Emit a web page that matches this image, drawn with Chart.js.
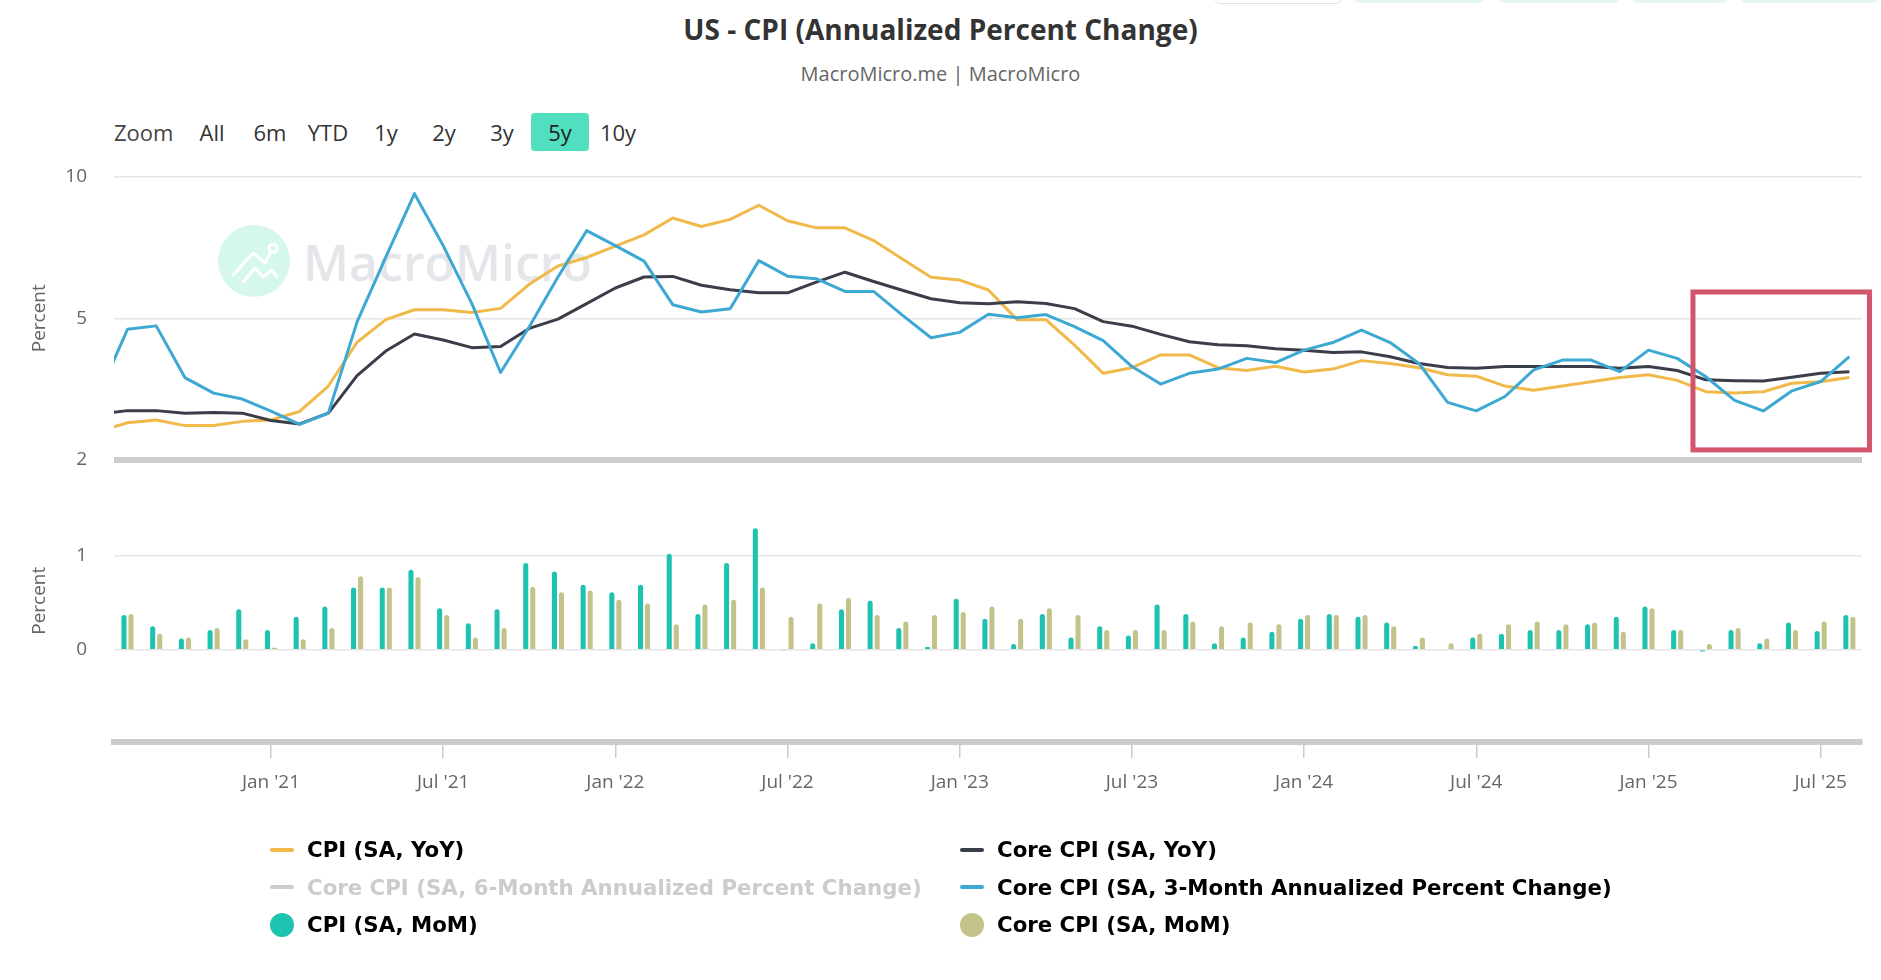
<!DOCTYPE html>
<html>
<head>
<meta charset="utf-8">
<title>US - CPI (Annualized Percent Change)</title>
<script src="https://cdn.jsdelivr.net/npm/chart.js@4.4.1/dist/chart.umd.min.js"></script>
<style>
  html, body { margin: 0; padding: 0; background: #fff; }
  body { width: 1881px; height: 980px; position: relative; overflow: hidden; font-family: "Open Sans", sans-serif; }
  #cpiChart { position: absolute; left: 0; top: 0; }
  .title { position: absolute; left: 0; width: 1881px; top: 10px; text-align: center; font-size: 28px; font-weight: 700; color: #333; line-height: 38px; }
  .subtitle { position: absolute; left: 0; width: 1881px; top: 60px; text-align: center; font-size: 20px; color: #666; line-height: 28px; }
  .range { position: absolute; left: 114px; top: 113px; height: 38px; display: flex; align-items: center; font-size: 22px; color: #444; }
  .range .zoom { width: 69px; }
  .range .btn { width: 58px; height: 38px; line-height: 38px; text-align: center; border-radius: 4px; color: #333; }
  .range .btn.on { background: #52dfc0; color: #222; }
  .tab { position: absolute; top: -10px; height: 13px; border-radius: 0 0 5px 5px; background: #e4f7f1; }
  .tab.plain { background: #fff; border: 1px solid #e2e2e2; border-top: none; }
  #legend { position: absolute; left: 270px; top: 831px; display: grid; grid-template-columns: 690px auto; grid-auto-rows: 37.5px;
            font-family: "DejaVu Sans", sans-serif; font-size: 21.3px; font-weight: 700; color: #000; }
  #legend .item { display: flex; align-items: center; white-space: nowrap; }
  #legend .sym { width: 24px; margin-right: 13px; flex: none; }
  #legend .line { height: 4px; border-radius: 2px; }
  #legend .dot { height: 24px; border-radius: 50%; }
  #legend .off { color: #cccccc; }
</style>
</head>
<body>
<div class="tab plain" style="left:1215px;width:124px"></div>
<div class="tab" style="left:1354px;width:130px"></div>
<div class="tab" style="left:1499px;width:120px"></div>
<div class="tab" style="left:1632px;width:96px"></div>
<div class="tab" style="left:1741px;width:137px"></div>

<div class="title">US - CPI (Annualized Percent Change)</div>
<div class="subtitle">MacroMicro.me | MacroMicro</div>
<div class="range">
  <span class="zoom">Zoom</span>
  <span class="btn">All</span><span class="btn">6m</span><span class="btn">YTD</span><span class="btn">1y</span>
  <span class="btn">2y</span><span class="btn">3y</span><span class="btn on">5y</span><span class="btn">10y</span>
</div>
<canvas id="cpiChart" width="1881" height="980"></canvas>
<div id="legend"></div>

<script>
// --- Data (monthly) ---
const months = [
  '2020-07','2020-08','2020-09','2020-10','2020-11','2020-12',
  '2021-01','2021-02','2021-03','2021-04','2021-05','2021-06','2021-07','2021-08','2021-09','2021-10','2021-11','2021-12',
  '2022-01','2022-02','2022-03','2022-04','2022-05','2022-06','2022-07','2022-08','2022-09','2022-10','2022-11','2022-12',
  '2023-01','2023-02','2023-03','2023-04','2023-05','2023-06','2023-07','2023-08','2023-09','2023-10','2023-11','2023-12',
  '2024-01','2024-02','2024-03','2024-04','2024-05','2024-06','2024-07','2024-08','2024-09','2024-10','2024-11','2024-12',
  '2025-01','2025-02','2025-03','2025-04','2025-05','2025-06','2025-07','2025-08'
];

const cpiYoY = [
  1.0, 1.3, 1.4, 1.2, 1.2, 1.35,
  1.4, 1.7, 2.6, 4.15, 4.95, 5.3, 5.3, 5.2, 5.35, 6.2, 6.85, 7.15,
  7.55, 7.95, 8.55, 8.25, 8.5, 9.0, 8.45, 8.2, 8.2, 7.75, 7.1, 6.45,
  6.35, 6.0, 4.95, 4.95, 4.05, 3.05, 3.25, 3.7, 3.7, 3.25, 3.15, 3.3,
  3.1, 3.2, 3.5, 3.4, 3.25, 3.0, 2.95, 2.6, 2.45, 2.6, 2.75, 2.9,
  3.0, 2.8, 2.4, 2.35, 2.4, 2.7, 2.75, 2.9
];

const coreYoY = [
  1.6, 1.73, 1.73, 1.64, 1.66, 1.64,
  1.38, 1.26, 1.64, 2.97, 3.84, 4.44, 4.23, 3.96, 4.0, 4.64, 4.97, 5.52,
  6.07, 6.46, 6.48, 6.17, 6.01, 5.9, 5.9, 6.28, 6.63, 6.3, 5.99, 5.69,
  5.55, 5.51, 5.58, 5.52, 5.34, 4.88, 4.72, 4.43, 4.17, 4.06, 4.03, 3.92,
  3.87, 3.79, 3.81, 3.64, 3.4, 3.26, 3.23, 3.29, 3.29, 3.29, 3.29, 3.23,
  3.29, 3.15, 2.82, 2.79, 2.78, 2.91, 3.05, 3.11
];

const core3mAnn = [
  2.3, 4.61, 4.73, 2.9, 2.35, 2.14,
  1.71, 1.24, 1.64, 4.87, 7.16, 9.41, 7.57, 5.52, 3.08, 4.7, 6.46, 8.1,
  7.57, 7.02, 5.48, 5.22, 5.34, 7.04, 6.49, 6.4, 5.95, 5.95, 5.11, 4.31,
  4.5, 5.14, 5.02, 5.13, 4.7, 4.21, 3.29, 2.67, 3.05, 3.2, 3.58, 3.43,
  3.87, 4.14, 4.58, 4.14, 3.4, 2.02, 1.72, 2.23, 3.17, 3.52, 3.52, 3.11,
  3.87, 3.58, 2.93, 2.09, 1.72, 2.43, 2.76, 3.64
];

// MoM bars start one month later (Aug 2020)
const barMonths = months.slice(1);

const cpiMoM = [
  0.37, 0.25, 0.12, 0.21, 0.43,
  0.21, 0.35, 0.46, 0.66, 0.66, 0.85, 0.44, 0.28, 0.43, 0.92, 0.83, 0.69,
  0.61, 0.69, 1.02, 0.38, 0.92, 1.29, -0.01, 0.07, 0.43, 0.52, 0.23, 0.03,
  0.54, 0.33, 0.06, 0.38, 0.13, 0.25, 0.15, 0.48, 0.38, 0.07, 0.13, 0.19,
  0.33, 0.38, 0.35, 0.29, 0.04, 0.0, 0.13, 0.17, 0.21, 0.21, 0.27, 0.35,
  0.46, 0.21, -0.02, 0.21, 0.07, 0.29, 0.2, 0.37
];

const coreMoM = [
  0.38, 0.17, 0.13, 0.23, 0.11,
  0.02, 0.11, 0.23, 0.78, 0.66, 0.77, 0.37, 0.13, 0.23, 0.67, 0.61, 0.63,
  0.53, 0.49, 0.27, 0.48, 0.53, 0.66, 0.35, 0.49, 0.55, 0.37, 0.3, 0.37,
  0.4, 0.46, 0.33, 0.44, 0.37, 0.21, 0.21, 0.21, 0.3, 0.25, 0.29, 0.27,
  0.37, 0.37, 0.37, 0.25, 0.13, 0.07, 0.17, 0.27, 0.3, 0.27, 0.29, 0.19,
  0.44, 0.21, 0.06, 0.23, 0.12, 0.21, 0.3, 0.35
];

const xTickMonths = ['2021-01','2021-07','2022-01','2022-07','2023-01','2023-07','2024-01','2024-07','2025-01','2025-07'];
const xTickLabels = ["Jan '21","Jul '21","Jan '22","Jul '22","Jan '23","Jul '23","Jan '24","Jul '24","Jan '25","Jul '25"];

const topTicks = [0, 5, 10];
const topTickLabels = ['2', '5', '10'];
const bottomTicks = [0, 1];
const bottomTickLabels = ['0', '1'];

// highlighted window (data units): Mar–Aug 2025
const highlight = { xFrom: 61.55, xTo: 67.7, yFrom: 0.34, yTo: 5.93 };

// --- Helpers ---
function monthIndex(key) {
  const [y, m] = key.split('-').map(Number);
  return (y - 2020) * 12 + (m - 1);
}
const toPoints = (values, keys) => keys.map((k, i) => ({ x: monthIndex(k), y: values[i] }));

const FONT = 'Open Sans';
const axisFont = { family: FONT, size: 19 };

// --- Plugins ---
const watermark = {
  id: 'watermark',
  beforeDatasetsDraw(chart) {
    const { ctx, chartArea } = chart;
    const cx = chartArea.left + 140, cy = chartArea.top + 84;
    ctx.save();
    ctx.fillStyle = '#d6f7ee';
    ctx.beginPath();
    ctx.arc(cx, cy, 36, 0, Math.PI * 2);
    ctx.fill();
    ctx.strokeStyle = '#ffffff';
    ctx.lineWidth = 3;
    ctx.lineJoin = 'round';
    ctx.lineCap = 'round';
    ctx.beginPath();
    [[-21, 14], [-1, -8], [11, 2], [17, -9]].forEach(([dx, dy], i) => i ? ctx.lineTo(cx + dx, cy + dy) : ctx.moveTo(cx + dx, cy + dy));
    ctx.stroke();
    ctx.beginPath();
    ctx.arc(cx + 19, cy - 13, 4, 0, Math.PI * 2);
    ctx.stroke();
    ctx.beginPath();
    [[-11, 21], [1, 7], [9, 16], [18, 9], [23, 16]].forEach(([dx, dy], i) => i ? ctx.lineTo(cx + dx, cy + dy) : ctx.moveTo(cx + dx, cy + dy));
    ctx.stroke();
    ctx.fillStyle = '#e4e6ea';
    ctx.font = '600 50px "Open Sans"';
    ctx.textBaseline = 'alphabetic';
    ctx.fillText('MacroMicro', chartArea.left + 189, chartArea.top + 104);
    ctx.restore();
  }
};

const highlightBox = {
  id: 'highlightBox',
  afterDatasetsDraw(chart) {
    const { ctx, scales } = chart;
    const x0 = scales.x.getPixelForValue(highlight.xFrom);
    const x1 = scales.x.getPixelForValue(highlight.xTo);
    const y0 = scales.y.getPixelForValue(highlight.yTo);
    const y1 = scales.y.getPixelForValue(highlight.yFrom);
    ctx.save();
    ctx.strokeStyle = '#d2566b';
    ctx.lineWidth = 5;
    ctx.strokeRect(x0, y0, x1 - x0, y1 - y0);
    ctx.restore();
  }
};

// --- Chart ---
const chart = new Chart(document.getElementById('cpiChart').getContext('2d'), {
  type: 'line',
  data: {
    datasets: [
      { label: 'CPI (SA, YoY)', data: toPoints(cpiYoY, months), borderColor: '#f0b94a', backgroundColor: '#f0b94a',
        borderWidth: 3, pointRadius: 0, yAxisID: 'y', order: 3 },
      { label: 'Core CPI (SA, YoY)', data: toPoints(coreYoY, months), borderColor: '#3a3d4a', backgroundColor: '#3a3d4a',
        borderWidth: 3, pointRadius: 0, yAxisID: 'y', order: 2 },
      { label: 'Core CPI (SA, 6-Month Annualized Percent Change)', data: [], hidden: true,
        borderColor: '#cccccc', backgroundColor: '#cccccc', pointRadius: 0, yAxisID: 'y', order: 4 },
      { label: 'Core CPI (SA, 3-Month Annualized Percent Change)', data: toPoints(core3mAnn, months), borderColor: '#3da8d2', backgroundColor: '#3da8d2',
        borderWidth: 3, pointRadius: 0, yAxisID: 'y', order: 1 },
      { type: 'bar', label: 'CPI (SA, MoM)', data: toPoints(cpiMoM, barMonths), backgroundColor: '#1ec3b0',
        yAxisID: 'y2', categoryPercentage: 0.49, barPercentage: 0.72, borderRadius: 3, order: 5 },
      { type: 'bar', label: 'Core CPI (SA, MoM)', data: toPoints(coreMoM, barMonths), backgroundColor: '#c3c28b',
        yAxisID: 'y2', categoryPercentage: 0.49, barPercentage: 0.72, borderRadius: 3, order: 6 }
    ]
  },
  options: {
    responsive: false,
    animation: false,
    layout: { padding: { top: 177, right: 19, bottom: 178, left: 0 } },
    plugins: { legend: { display: false }, tooltip: { enabled: false } },
    elements: { line: { tension: 0, borderJoinStyle: 'round' } },
    scales: {
      x: {
        type: 'linear',
        min: 6.53,
        max: 67.44,
        offset: false,
        afterBuildTicks: s => { s.ticks = xTickMonths.map(m => ({ value: monthIndex(m) })); },
        afterFit: s => { s.height = 60; },
        ticks: { callback: (v, i) => xTickLabels[i], font: axisFont, color: '#666', padding: 13, maxRotation: 0, autoSkip: false },
        grid: { offset: false, drawOnChartArea: false, drawTicks: true, tickLength: 16, color: '#cccccc', lineWidth: 1.5 },
        border: { display: true, color: '#cccccc', width: 6 }
      },
      y: {
        type: 'linear',
        position: 'left',
        stack: 'panes',
        stackWeight: 1,
        weight: 2,
        min: 0,
        max: 10,
        afterBuildTicks: s => { s.ticks = topTicks.map(v => ({ value: v })); },
        afterFit: s => { s.width = 114; },
        ticks: { callback: (v, i) => topTickLabels[i], font: axisFont, color: '#666', padding: 27 },
        grid: {
          drawTicks: false,
          color: c => c.tick && c.tick.value === 0 ? '#cccccc' : '#e6e6e6',
          lineWidth: c => c.tick && c.tick.value === 0 ? 6 : 1.5
        },
        border: { display: false },
        title: { display: true, text: 'Percent', font: axisFont, color: '#666', padding: { top: 28, bottom: 0 } }
      },
      y2: {
        type: 'linear',
        position: 'left',
        stack: 'panes',
        stackWeight: 1,
        weight: 1,
        min: -0.98,
        max: 2.02,
        afterBuildTicks: s => { s.ticks = bottomTicks.map(v => ({ value: v })); },
        afterFit: s => { s.width = 114; },
        ticks: { callback: (v, i) => bottomTickLabels[i], font: axisFont, color: '#666', padding: 27 },
        grid: { drawTicks: false, color: '#e6e6e6', lineWidth: 1.5 },
        border: { display: false },
        title: { display: true, text: 'Percent', font: axisFont, color: '#666', padding: { top: 28, bottom: 0 } }
      }
    }
  },
  plugins: [watermark, highlightBox]
});

// --- Legend (two columns, Highcharts style) ---
const legendEl = document.getElementById('legend');
chart.data.datasets.forEach(ds => {
  const item = document.createElement('div');
  item.className = 'item' + (ds.hidden ? ' off' : '');
  const sym = document.createElement('span');
  sym.className = 'sym ' + (ds.type === 'bar' ? 'dot' : 'line');
  sym.style.background = ds.hidden ? '#cccccc' : (ds.type === 'bar' ? ds.backgroundColor : ds.borderColor);
  const txt = document.createElement('span');
  txt.textContent = ds.label;
  item.appendChild(sym);
  item.appendChild(txt);
  legendEl.appendChild(item);
});
</script>
</body>
</html>
